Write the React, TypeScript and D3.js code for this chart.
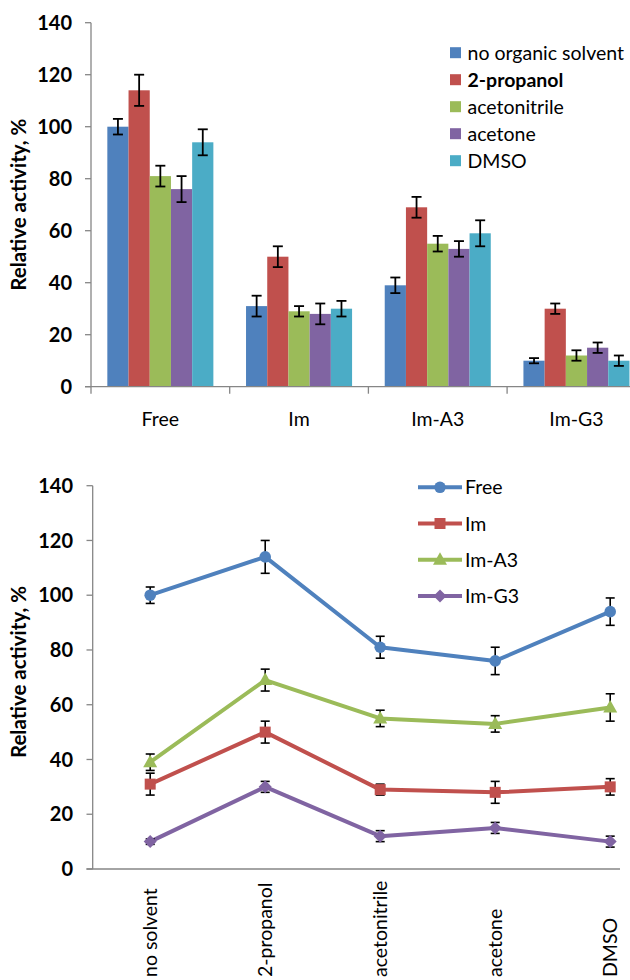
import React from 'react';
import * as d3 from 'd3';

// ---------- data ----------
const groups = ['Free', 'Im', 'Im-A3', 'Im-G3'];
const solvents = ['no organic solvent', '2-propanol', 'acetonitrile', 'acetone', 'DMSO'];
const solventTicks = ['no solvent', '2-propanol', 'acetonitrile', 'acetone', 'DMSO'];

const freeValues = [100, 114, 81, 76, 94];
const freeErrors = [3, 6, 4, 5, 5];
const imValues = [31, 50, 29, 28, 30];
const imErrors = [4, 4, 2, 4, 3];
const imA3Values = [39, 69, 55, 53, 59];
const imA3Errors = [3, 4, 3, 3, 5];
const imG3Values = [10, 30, 12, 15, 10];
const imG3Errors = [1, 2, 2, 2, 2];

const yTicks = [0, 20, 40, 60, 80, 100, 120, 140];

const solventColors = ['#4F81BD', '#C0504D', '#9BBB59', '#8064A2', '#4BACC6'];
const groupColors = ['#4F81BD', '#C0504D', '#9BBB59', '#8064A2'];
const groupMarkers = ['circle', 'square', 'triangle', 'diamond'];

const values = [freeValues, imValues, imA3Values, imG3Values];
const errors = [freeErrors, imErrors, imA3Errors, imG3Errors];

const FONT = 'Lato, "Open Sans", sans-serif';
const AXIS = '#868686';
const FS = 19.5;
const TICK_FS = 20;
const TITLE_FS = 20.5;

function Marker({ type, x, y, color }: { type: string; x: number; y: number; color: string }) {
  if (type === 'circle') return <circle cx={x} cy={y} r={5.8} fill={color} />;
  if (type === 'square') return <rect x={x - 5.5} y={y - 5.5} width={11} height={11} fill={color} />;
  if (type === 'triangle') {
    const p = d3.path();
    p.moveTo(x, y - 7.5);
    p.lineTo(x + 7, y + 5);
    p.lineTo(x - 7, y + 5);
    p.closePath();
    return <path d={p.toString()} fill={color} />;
  }
  const p = d3.path();
  p.moveTo(x, y - 6.5);
  p.lineTo(x + 6.5, y);
  p.lineTo(x, y + 6.5);
  p.lineTo(x - 6.5, y);
  p.closePath();
  return <path d={p.toString()} fill={color} />;
}

function BarChart() {
  const x0 = d3.scaleBand<string>().domain(groups).range([91, 91 + 4 * 138.7]).padding(0);
  const x1 = d3.scaleBand<string>().domain(solvents).range([0, x0.bandwidth()]).paddingInner(0).paddingOuter(0.77);
  const y = d3.scaleLinear().domain([0, 140]).range([386.7, 22.7]);
  const cap = 5;
  return (
    <g>
      {groups.map((g, gi) => (
        <g key={g}>
          {solvents.map((s, si) => {
            const v = values[gi][si];
            const xx = (x0(g) as number) + (x1(s) as number);
            return (
              <rect key={s} x={xx} y={y(v)} width={x1.bandwidth()} height={y(0) - y(v)} fill={solventColors[si]} />
            );
          })}
        </g>
      ))}
      {groups.map((g, gi) =>
        solvents.map((s, si) => {
          const v = values[gi][si];
          const e = errors[gi][si];
          const cx = (x0(g) as number) + (x1(s) as number) + x1.bandwidth() / 2;
          return (
            <g key={g + s} stroke="#000" strokeWidth={1.8}>
              <line x1={cx} x2={cx} y1={y(v + e)} y2={y(v - e)} />
              <line x1={cx - cap} x2={cx + cap} y1={y(v + e)} y2={y(v + e)} />
              <line x1={cx - cap} x2={cx + cap} y1={y(v - e)} y2={y(v - e)} />
            </g>
          );
        })
      )}
      <line x1={91} x2={91} y1={y(140)} y2={y(0)} stroke={AXIS} strokeWidth={1.3} />
      {yTicks.map((t) => (
        <g key={t}>
          <line x1={85} x2={91} y1={y(t)} y2={y(t)} stroke={AXIS} strokeWidth={1.3} />
          <text x={72} y={y(t)} dy="0.36em" textAnchor="end" fontFamily={FONT} fontWeight={700} fontSize={TICK_FS} fill="#000">
            {t}
          </text>
        </g>
      ))}
      <line x1={85} x2={91 + 4 * 138.7} y1={y(0)} y2={y(0)} stroke={AXIS} strokeWidth={1.3} />
      {groups.map((g) => (
        <line key={g} x1={x0(g) as number} x2={x0(g) as number} y1={y(0)} y2={y(0) + 7} stroke={AXIS} strokeWidth={1.3} />
      ))}
      {groups.map((g) => (
        <text key={g} x={(x0(g) as number) + x0.bandwidth() / 2} y={426} textAnchor="middle" fontFamily={FONT} fontSize={FS} fill="#000">
          {g}
        </text>
      ))}
      <text transform={`translate(26, ${(y(0) + y(140)) / 2}) rotate(-90)`} textAnchor="middle" fontFamily={FONT} fontWeight={700} fontSize={TITLE_FS} fill="#000">
        Relative activity, %
      </text>
      {solvents.map((s, si) => (
        <g key={s} transform={`translate(450, ${52.7 + si * 27})`}>
          <rect x={0} y={-5.5} width={11} height={11} fill={solventColors[si]} />
          <text x={17.5} y={0} dy="0.36em" fontFamily={FONT} fontWeight={si === 1 ? 700 : 400} fontSize={FS} fill="#000">
            {s}
          </text>
        </g>
      ))}
    </g>
  );
}

function LineChart() {
  const x = d3.scalePoint<string>().domain(solventTicks).range([92.7, 92.7 + 575]).padding(0.5);
  const y = d3.scaleLinear().domain([0, 140]).range([869, 485.7]);
  const line = d3
    .line<number>()
    .x((_, i) => x(solventTicks[i]) as number)
    .y((d) => y(d));
  const cap = 4.5;
  return (
    <g>
      <defs>
        <clipPath id="lineclip">
          <rect x={0} y={440} width={620} height={540} />
        </clipPath>
      </defs>
      <g clipPath="url(#lineclip)">
        <line x1={92.7} x2={92.7} y1={y(140)} y2={y(0)} stroke={AXIS} strokeWidth={1.3} />
        {yTicks.map((t) => (
          <line key={t} x1={86.5} x2={92.7} y1={y(t)} y2={y(t)} stroke={AXIS} strokeWidth={1.3} />
        ))}
        <line x1={86.5} x2={92.7 + 575} y1={y(0)} y2={y(0)} stroke={AXIS} strokeWidth={1.3} />
        {groups.map((g, gi) => (
          <path key={g} d={line(values[gi]) as string} fill="none" stroke={groupColors[gi]} strokeWidth={4} strokeLinejoin="round" />
        ))}
        {groups.map((g, gi) =>
          solventTicks.map((s, si) => {
            const v = values[gi][si];
            const e = errors[gi][si];
            const cx = x(s) as number;
            return (
              <g key={g + s} stroke="#000" strokeWidth={1.6}>
                <line x1={cx} x2={cx} y1={y(v + e)} y2={y(v - e)} />
                <line x1={cx - cap} x2={cx + cap} y1={y(v + e)} y2={y(v + e)} />
                <line x1={cx - cap} x2={cx + cap} y1={y(v - e)} y2={y(v - e)} />
              </g>
            );
          })
        )}
        {groups.map((g, gi) =>
          solventTicks.map((s, si) => (
            <Marker key={g + s} type={groupMarkers[gi]} x={x(s) as number} y={y(values[gi][si])} color={groupColors[gi]} />
          ))
        )}
      </g>
      {yTicks.map((t) => (
        <text key={t} x={73} y={y(t)} dy="0.36em" textAnchor="end" fontFamily={FONT} fontWeight={700} fontSize={TICK_FS} fill="#000">
          {t}
        </text>
      ))}
      {solventTicks.map((s) => (
        <text key={s} transform={`translate(${(x(s) as number) + 6.5}, 977) rotate(-90)`} textAnchor="start" fontFamily={FONT} fontSize={FS} fill="#000">
          {s}
        </text>
      ))}
      <text transform={`translate(26, 672) rotate(-90)`} textAnchor="middle" fontFamily={FONT} fontWeight={700} fontSize={TITLE_FS} fill="#000">
        Relative activity, %
      </text>
      {groups.map((g, gi) => (
        <g key={g} transform={`translate(418, ${487.3 + gi * 36.2})`}>
          <line x1={0} x2={44} y1={0} y2={0} stroke={groupColors[gi]} strokeWidth={4} />
          <Marker type={groupMarkers[gi]} x={22} y={0} color={groupColors[gi]} />
          <text x={47} y={0} dy="0.36em" fontFamily={FONT} fontSize={FS} fill="#000">
            {g}
          </text>
        </g>
      ))}
    </g>
  );
}

export default function App() {
  return (
    <svg width={630} height={980} style={{ position: 'absolute', left: 0, top: 0, background: '#fff' }}>
      <rect x={0} y={0} width={630} height={980} fill="#fff" />
      <BarChart />
      <LineChart />
    </svg>
  );
}
